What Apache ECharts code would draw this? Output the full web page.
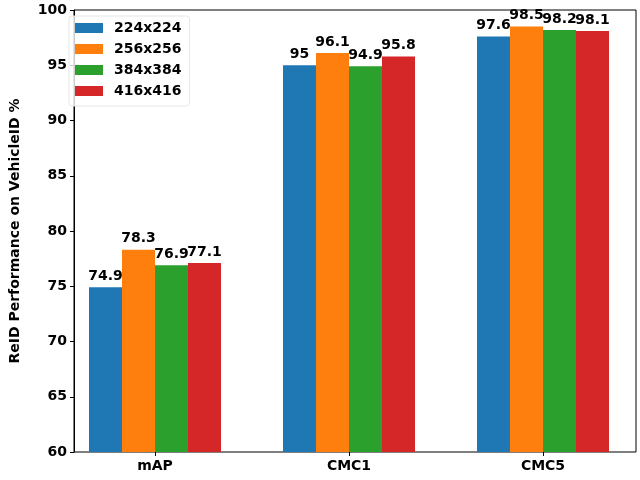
<!DOCTYPE html>
<html>
<head>
<meta charset="utf-8">
<script src="https://cdn.jsdelivr.net/npm/echarts@6/dist/echarts.min.js"></script>
<style>html,body{margin:0;padding:0;background:#fff}#c{width:640px;height:480px}</style>
</head>
<body>
<div id="c"></div>
<script>
const categories = ['mAP', 'CMC1', 'CMC5'];
const seriesNames = ['224x224', '256x256', '384x384', '416x416'];
const s224 = [74.9, 95, 97.6];
const s256 = [78.3, 96.1, 98.5];
const s384 = [76.9, 94.9, 98.2];
const s416 = [77.1, 95.8, 98.1];
const yTicks = [60, 65, 70, 75, 80, 85, 90, 95, 100];
const colors = ['#1f77b4', '#ff7f0e', '#2ca02c', '#d62728'];
const allSeries = [s224, s256, s384, s416];

const FONT = 'DejaVu Sans';
const chart = echarts.init(document.getElementById('c'), null, {renderer: 'canvas'});
const labelStyle = {fontFamily: FONT, fontWeight: 'bold', fontSize: 14, color: '#000'};

chart.setOption({
  animation: false,
  textStyle: {fontFamily: FONT},
  grid: [
    {left: 62, top: 10, right: 4, bottom: 28, show: true, borderColor: '#000', borderWidth: 1, backgroundColor: 'transparent'},
    {left: 58, top: 10, width: 583, bottom: 28}
  ],
  legend: {
    orient: 'vertical', left: 69, top: 16,
    data: seriesNames,
    icon: 'rect', itemWidth: 28, itemHeight: 10, itemGap: 7,
    padding: [5, 8, 8, 6],
    backgroundColor: 'rgba(255,255,255,0.8)', borderColor: '#e6e6e6', borderWidth: 1, borderRadius: 3,
    textStyle: Object.assign({}, labelStyle, {padding: [0, 0, 0, 6]})
  },
  xAxis: [
    {gridIndex: 0, type: 'category', data: categories, show: false},
    {
      gridIndex: 1, type: 'category', data: categories,
      axisLine: {show: false},
      axisTick: {show: true, alignWithLabel: true, length: 4, lineStyle: {color: '#000'}},
      axisLabel: Object.assign({margin: 7}, labelStyle),
      splitLine: {show: false}
    }
  ],
  yAxis: [
    {
      gridIndex: 0, type: 'value', min: 60, max: 100, interval: 5,
      name: 'ReID Performance on VehicleID %', nameLocation: 'middle', nameGap: 52,
      nameTextStyle: labelStyle,
      splitLine: {show: false},
      axisLine: {show: true, onZero: false, lineStyle: {color: '#000', width: 1}},
      axisTick: {show: true, length: 4, inside: false, lineStyle: {color: '#000'}},
      axisLabel: Object.assign({margin: 7, formatter: v => yTicks.includes(v) ? String(v) : ''}, labelStyle)
    },
    {gridIndex: 1, type: 'value', min: 60, max: 100, interval: 5, show: false, splitLine: {show: false}}
  ],
  series: allSeries.map((arr, si) => ({
    name: seriesNames[si],
    type: 'bar',
    xAxisIndex: 1, yAxisIndex: 1,
    barWidth: 33,
    barGap: '0%',
    itemStyle: {color: colors[si]},
    label: Object.assign({show: true, position: 'top', distance: 4}, labelStyle),
    data: arr
  }))
});
</script>
</body>
</html>
